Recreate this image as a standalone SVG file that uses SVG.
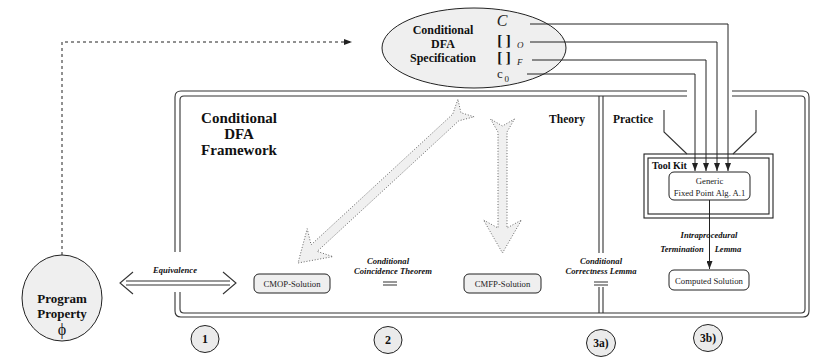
<svg xmlns="http://www.w3.org/2000/svg" width="818" height="359" viewBox="0 0 818 359">
<defs>
<marker id="ah" viewBox="0 0 8 6" refX="8" refY="3" markerWidth="8" markerHeight="6" markerUnits="userSpaceOnUse" orient="auto"><path d="M0,0 L8,3 L0,6 Z" fill="#222"/></marker>
</defs>
<style>
.b{font-family:"Liberation Serif",serif;font-weight:bold;fill:#111;text-anchor:middle}
.bi{font-family:"Liberation Serif",serif;font-weight:bold;font-style:italic;font-size:8.6px;fill:#111;text-anchor:middle}
.r{font-family:"Liberation Serif",serif;fill:#222;text-anchor:middle;font-size:8.7px}
.ln{fill:none;stroke:#333;stroke-width:1.1}
.cn{fill:none;stroke:#222;stroke-width:1}
.box{fill:#fff;stroke:#222;stroke-width:1}
.gbox{fill:#efefef;stroke:#222;stroke-width:1}
.dot{fill:#f0f0f0;stroke:#555;stroke-width:0.9;stroke-dasharray:1 1.8}
.num{fill:#ebebeb;stroke:#222;stroke-width:1}
</style>
<rect width="818" height="359" fill="#fff"/>

<g id="framework">
<path class="ln" d="M687,91 H181 Q175,91 175,97 V252 M175,292 V311 Q175,317 181,317 H803 Q809,317 809,311 V97 Q809,91 803,91 H732"/>
<path class="ln" d="M687,96 H184 Q180,96 180,100 V252 M180,292 V309 Q180,313 184,313 H801 Q805,313 805,309 V100 Q805,96 801,96 H732"/>
<path class="ln" d="M599,96 V253 M603,96 V253 M599,287 V313 M603,287 V313"/>
<text class="b" font-size="15" x="239" y="123">Conditional</text>
<text class="b" font-size="15" x="239" y="139">DFA</text>
<text class="b" font-size="15" x="239" y="155">Framework</text>
<text class="b" font-size="11.5" x="567" y="123">Theory</text>
<text class="b" font-size="11.5" x="633" y="123">Practice</text>
</g>

<g id="spec">
<ellipse cx="474" cy="48" rx="92" ry="40" fill="#efefef" stroke="#222" stroke-width="1"/>
<text class="b" font-size="12" x="443" y="34">Conditional</text>
<text class="b" font-size="12" x="443" y="48">DFA</text>
<text class="b" font-size="12" x="443" y="62">Specification</text>
<text x="502" y="26" font-family="Liberation Serif, serif" font-style="italic" font-size="16" text-anchor="middle" fill="#222">C</text>
<text x="504" y="45" font-family="Liberation Serif, serif" font-weight="bold" font-size="15" text-anchor="middle" fill="#111">[ ]</text>
<text x="517" y="48" font-family="Liberation Serif, serif" font-style="italic" font-size="9" fill="#222">O</text>
<text x="504" y="62" font-family="Liberation Serif, serif" font-weight="bold" font-size="15" text-anchor="middle" fill="#111">[ ]</text>
<text x="517" y="65" font-family="Liberation Serif, serif" font-style="italic" font-size="9" fill="#222">F</text>
<text x="500" y="78" font-family="Liberation Serif, serif" font-size="13" text-anchor="middle" fill="#222">c</text>
<text x="504.5" y="82" font-family="Liberation Serif, serif" font-size="9" fill="#222">0</text>
</g>

<g id="program">
<ellipse cx="62" cy="298" rx="40" ry="43" fill="#efefef" stroke="#222" stroke-width="1"/>
<text class="b" font-size="13" x="62" y="303">Program</text>
<text class="b" font-size="13" x="62" y="318">Property</text>
<text x="62" y="335" font-family="Liberation Serif, serif" font-size="16" text-anchor="middle" fill="#111">ϕ</text>
</g>

<g id="cmop">
<rect class="gbox" x="254" y="274" width="76" height="19" rx="5"/>
<text class="r" x="292" y="287">CMOP-Solution</text>
</g>
<g id="cmfp">
<rect class="gbox" x="464" y="274" width="77" height="19" rx="5"/>
<text class="r" x="502.5" y="287">CMFP-Solution</text>
</g>

<g id="toolkit">
<rect x="644" y="154" width="129" height="64" fill="none" stroke="#222" stroke-width="1.1"/>
<rect x="648" y="158" width="121" height="56" fill="none" stroke="#222" stroke-width="1.1"/>
<text x="652" y="169" font-family="Liberation Serif, serif" font-weight="bold" font-size="10" fill="#111">Tool Kit</text>
</g>
<g id="generic">
<rect class="box" x="669" y="172" width="81" height="28" rx="5"/>
<text class="r" x="709.5" y="184">Generic</text>
<text class="r" x="709.5" y="196">Fixed Point Alg. A.1</text>
</g>
<g id="computed">
<rect class="box" x="669" y="270" width="80" height="20" rx="5"/>
<text class="r" x="709" y="284">Computed Solution</text>
</g>

<g id="n1"><ellipse class="num" cx="205" cy="339" rx="14" ry="13.5"/><text class="b" font-size="12" x="205" y="343">1</text></g>
<g id="n2"><ellipse class="num" cx="388" cy="340" rx="14" ry="13.5"/><text class="b" font-size="12" x="388" y="344">2</text></g>
<g id="n3a"><ellipse class="num" cx="601" cy="343" rx="14.5" ry="13.5"/><text class="b" font-size="11.5" x="601" y="347">3a)</text></g>
<g id="n3b"><ellipse class="num" cx="708" cy="338" rx="14.5" ry="13.5"/><text class="b" font-size="11.5" x="708" y="342">3b)</text></g>

<g id="connectors">
<path class="cn" d="M62,255 V42 H352" stroke-dasharray="3 3" marker-end="url(#ah)"/>
<path class="cn" d="M530,24 H728 V171" marker-end="url(#ah)"/>
<path class="cn" d="M530,42 H717 V171" marker-end="url(#ah)"/>
<path class="cn" d="M532,60 H706 V171" marker-end="url(#ah)"/>
<path class="cn" d="M527,74 H695 V171" marker-end="url(#ah)"/>
<path class="ln" d="M664,110 V132 L687,154"/>
<path class="ln" d="M756,110 V132 L733,154"/>
<path class="cn" d="M709.5,200 V269" marker-end="url(#ah)"/>
<text class="bi" x="709" y="238">Intraprocedural</text>
<text class="bi" x="682" y="252">Termination</text>
<text class="bi" x="728" y="252">Lemma</text>
<path class="ln" d="M126,281 H230 M126,285 H230"/>
<path class="ln" d="M133,272 L120,283 L133,294"/>
<path class="ln" d="M223,272 L236,283 L223,294"/>
<text class="bi" x="175" y="273">Equivalence</text>
<polygon class="dot" points="474.1,116.8 460.9,112.7 457.9,99.2 452.7,114.2 311.1,244.8 307.2,228.7 298,263 332.9,256.6 317.2,251.4 458.8,120.8"/>
<polygon class="dot" points="514.5,119 502.5,126 490.5,119 498,132 498,228 483.5,220 502.5,253 521.5,220 507,228 507,132"/>
<text class="bi" x="388" y="264">Conditional</text>
<text class="bi" x="393" y="274">Coincidence Theorem</text>
<path class="ln" d="M383,282 H397 M383,285 H397"/>
<text class="bi" x="601" y="264">Conditional</text>
<text class="bi" x="601" y="274">Correctness Lemma</text>
<path class="ln" d="M594,282 H608 M594,285 H608"/>
</g>
</svg>
